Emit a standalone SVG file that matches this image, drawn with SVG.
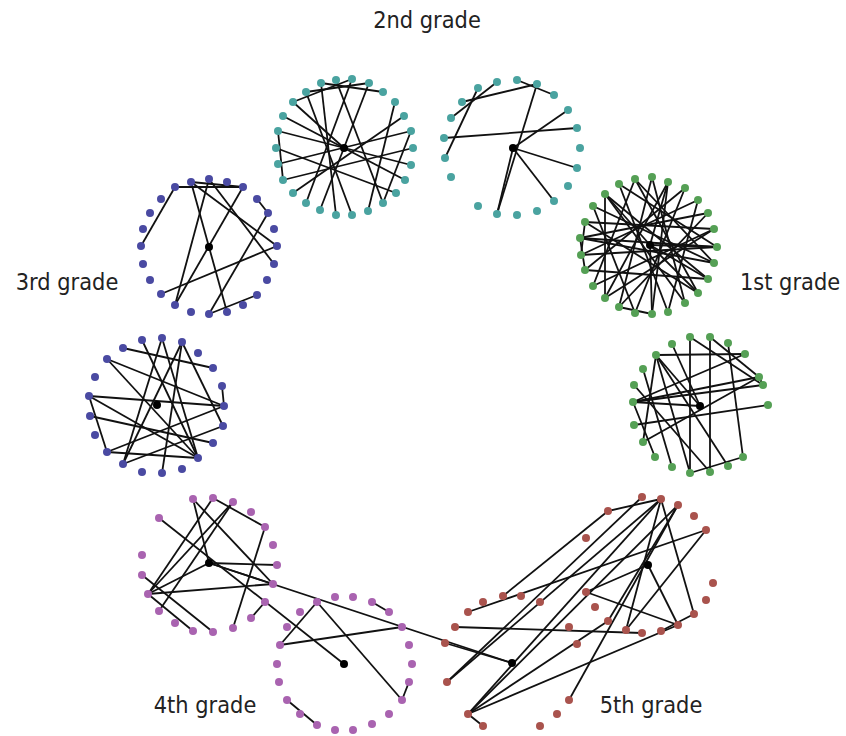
<svg xmlns="http://www.w3.org/2000/svg" width="846" height="736" viewBox="0 0 846 736">
<style>
  .e line { stroke: #111; stroke-width: 1.8; }
  .t { fill: #4aa3a0; }
  .g { fill: #55a055; }
  .b { fill: #4a4aa2; }
  .p { fill: #a963b0; }
  .r { fill: #a9534d; }
  .c { fill: #000; }
  text { font-family: "DejaVu Sans", "Liberation Sans", sans-serif; font-size: 21px; fill: #222; text-anchor: middle; }
</style>
<rect width="846" height="736" fill="#fff"/>

<!-- edges -->
<g id="edges" class="e">
  <!-- 2nd grade, left ring -->
  <line x1="306" y1="92" x2="369" y2="83"/>
  <line x1="321" y1="83" x2="383" y2="92"/>
  <line x1="293" y1="102" x2="352" y2="79"/>
  <line x1="321" y1="83" x2="336" y2="215"/>
  <line x1="336" y1="80" x2="383" y2="203"/>
  <line x1="369" y1="83" x2="320" y2="210"/>
  <line x1="395" y1="102" x2="368" y2="211"/>
  <line x1="278" y1="131" x2="411" y2="165"/>
  <line x1="283" y1="116" x2="405" y2="180"/>
  <line x1="278" y1="164" x2="411" y2="131"/>
  <line x1="293" y1="193" x2="404" y2="116"/>
  <line x1="278" y1="131" x2="283" y2="180"/>
  <line x1="276" y1="148" x2="396" y2="193"/>
  <line x1="352" y1="79" x2="306" y2="203"/>
  <line x1="283" y1="180" x2="413" y2="148"/>
  <line x1="293" y1="102" x2="344" y2="148"/>
  <line x1="411" y1="131" x2="383" y2="203"/>
  <line x1="306" y1="92" x2="352" y2="215"/>
  <!-- 2nd grade, right ring -->
  <line x1="462" y1="102" x2="537" y2="84"/>
  <line x1="451" y1="118" x2="497" y2="82"/>
  <line x1="478" y1="88" x2="445" y2="158"/>
  <line x1="517" y1="80" x2="554" y2="95"/>
  <line x1="537" y1="84" x2="497" y2="214"/>
  <line x1="444" y1="138" x2="577" y2="128"/>
  <line x1="513" y1="148" x2="568" y2="110"/>
  <line x1="513" y1="148" x2="577" y2="168"/>
  <line x1="513" y1="148" x2="554" y2="201"/>
  <line x1="513" y1="148" x2="497" y2="214"/>
  <!-- 1st grade, upper ring -->
  <line x1="619" y1="184" x2="668" y2="312"/>
  <line x1="635" y1="179" x2="698" y2="293"/>
  <line x1="635" y1="179" x2="593" y2="286"/>
  <line x1="652" y1="177" x2="619" y2="307"/>
  <line x1="652" y1="177" x2="685" y2="303"/>
  <line x1="668" y1="182" x2="605" y2="298"/>
  <line x1="668" y1="182" x2="652" y2="314"/>
  <line x1="685" y1="188" x2="585" y2="270"/>
  <line x1="685" y1="188" x2="635" y2="313"/>
  <line x1="698" y1="200" x2="581" y2="255"/>
  <line x1="698" y1="200" x2="668" y2="312"/>
  <line x1="708" y1="213" x2="580" y2="238"/>
  <line x1="708" y1="213" x2="619" y2="307"/>
  <line x1="714" y1="229" x2="585" y2="222"/>
  <line x1="714" y1="229" x2="593" y2="286"/>
  <line x1="717" y1="247" x2="581" y2="255"/>
  <line x1="717" y1="247" x2="580" y2="238"/>
  <line x1="714" y1="263" x2="593" y2="206"/>
  <line x1="714" y1="263" x2="580" y2="238"/>
  <line x1="708" y1="279" x2="605" y2="194"/>
  <line x1="708" y1="279" x2="585" y2="270"/>
  <line x1="698" y1="293" x2="585" y2="222"/>
  <line x1="685" y1="303" x2="605" y2="194"/>
  <line x1="635" y1="313" x2="593" y2="206"/>
  <line x1="605" y1="298" x2="714" y2="229"/>
  <line x1="605" y1="194" x2="605" y2="298"/>
  <line x1="580" y1="238" x2="585" y2="270"/>
  <line x1="585" y1="222" x2="581" y2="255"/>
  <line x1="619" y1="307" x2="652" y2="314"/>
  <line x1="650" y1="245" x2="668" y2="182"/>
  <line x1="650" y1="245" x2="698" y2="293"/>
  <line x1="650" y1="245" x2="652" y2="314"/>
  <line x1="650" y1="245" x2="605" y2="194"/>
  <line x1="650" y1="245" x2="717" y2="247"/>
  <line x1="650" y1="245" x2="708" y2="279"/>
  <line x1="635" y1="179" x2="714" y2="263"/>
  <line x1="619" y1="184" x2="717" y2="247"/>
  <!-- 1st grade, lower ring -->
  <line x1="690" y1="337" x2="690" y2="473"/>
  <line x1="710" y1="337" x2="710" y2="470"/>
  <line x1="656" y1="355" x2="745" y2="354"/>
  <line x1="656" y1="355" x2="690" y2="473"/>
  <line x1="656" y1="355" x2="643" y2="442"/>
  <line x1="656" y1="355" x2="700" y2="406"/>
  <line x1="710" y1="337" x2="759" y2="377"/>
  <line x1="728" y1="343" x2="743" y2="457"/>
  <line x1="633" y1="402" x2="745" y2="354"/>
  <line x1="633" y1="402" x2="763" y2="385"/>
  <line x1="633" y1="402" x2="700" y2="406"/>
  <line x1="634" y1="425" x2="768" y2="405"/>
  <line x1="643" y1="442" x2="759" y2="377"/>
  <line x1="743" y1="457" x2="690" y2="473"/>
  <line x1="643" y1="369" x2="672" y2="467"/>
  <line x1="759" y1="377" x2="763" y2="385"/>
  <line x1="656" y1="355" x2="728" y2="466"/>
  <line x1="633" y1="402" x2="655" y2="457"/>
  <line x1="634" y1="385" x2="710" y2="472"/>
  <line x1="633" y1="402" x2="759" y2="377"/>
  <line x1="672" y1="344" x2="700" y2="406"/>
  <line x1="690" y1="337" x2="763" y2="385"/>
  <!-- 3rd grade, upper ring -->
  <line x1="175" y1="187" x2="243" y2="187"/>
  <line x1="191" y1="182" x2="243" y2="187"/>
  <line x1="175" y1="187" x2="141" y2="246"/>
  <line x1="191" y1="182" x2="227" y2="312"/>
  <line x1="209" y1="179" x2="175" y2="305"/>
  <line x1="243" y1="187" x2="175" y2="305"/>
  <line x1="191" y1="182" x2="277" y2="246"/>
  <line x1="209" y1="179" x2="274" y2="264"/>
  <line x1="257" y1="199" x2="268" y2="213"/>
  <line x1="268" y1="213" x2="209" y2="314"/>
  <line x1="277" y1="246" x2="161" y2="294"/>
  <line x1="257" y1="295" x2="209" y2="314"/>
  <!-- 3rd grade, lower ring -->
  <line x1="123" y1="348" x2="213" y2="368"/>
  <line x1="107" y1="359" x2="224" y2="406"/>
  <line x1="107" y1="359" x2="198" y2="458"/>
  <line x1="142" y1="340" x2="198" y2="458"/>
  <line x1="162" y1="338" x2="123" y2="464"/>
  <line x1="162" y1="338" x2="198" y2="458"/>
  <line x1="182" y1="342" x2="123" y2="464"/>
  <line x1="182" y1="342" x2="162" y2="473"/>
  <line x1="182" y1="342" x2="223" y2="426"/>
  <line x1="89" y1="396" x2="224" y2="406"/>
  <line x1="89" y1="396" x2="107" y2="452"/>
  <line x1="89" y1="396" x2="198" y2="458"/>
  <line x1="107" y1="452" x2="198" y2="458"/>
  <line x1="107" y1="452" x2="224" y2="406"/>
  <line x1="123" y1="464" x2="223" y2="426"/>
  <line x1="222" y1="386" x2="224" y2="406"/>
  <line x1="90" y1="416" x2="213" y2="443"/>
  <!-- 4th grade, upper ring -->
  <line x1="159" y1="518" x2="344" y2="664"/>
  <line x1="209" y1="563" x2="512" y2="663"/>
  <line x1="193" y1="499" x2="273" y2="584"/>
  <line x1="213" y1="498" x2="265" y2="527"/>
  <line x1="265" y1="527" x2="233" y2="628"/>
  <line x1="213" y1="498" x2="148" y2="594"/>
  <line x1="233" y1="502" x2="148" y2="594"/>
  <line x1="233" y1="502" x2="159" y2="611"/>
  <line x1="193" y1="499" x2="209" y2="563"/>
  <line x1="209" y1="563" x2="277" y2="565"/>
  <line x1="148" y1="594" x2="273" y2="584"/>
  <line x1="209" y1="563" x2="273" y2="584"/>
  <line x1="142" y1="575" x2="213" y2="632"/>
  <line x1="148" y1="594" x2="193" y2="631"/>
  <line x1="209" y1="563" x2="148" y2="594"/>
  <line x1="265" y1="602" x2="251" y2="618"/>
  <!-- 4th grade, lower ring -->
  <line x1="280" y1="645" x2="317" y2="602"/>
  <line x1="280" y1="645" x2="402" y2="627"/>
  <line x1="317" y1="602" x2="402" y2="700"/>
  <line x1="402" y1="700" x2="409" y2="682"/>
  <line x1="372" y1="602" x2="389" y2="612"/>
  <line x1="287" y1="700" x2="317" y2="725"/>
  <!-- 5th grade -->
  <line x1="503" y1="596" x2="608" y2="511"/>
  <line x1="608" y1="511" x2="661" y2="499"/>
  <line x1="468" y1="612" x2="706" y2="530"/>
  <line x1="447" y1="682" x2="642" y2="497"/>
  <line x1="447" y1="682" x2="661" y2="499"/>
  <line x1="468" y1="714" x2="661" y2="499"/>
  <line x1="468" y1="714" x2="678" y2="505"/>
  <line x1="468" y1="714" x2="608" y2="621"/>
  <line x1="468" y1="714" x2="678" y2="625"/>
  <line x1="445" y1="643" x2="512" y2="663"/>
  <line x1="455" y1="627" x2="642" y2="633"/>
  <line x1="586" y1="592" x2="678" y2="625"/>
  <line x1="586" y1="592" x2="648" y2="565"/>
  <line x1="648" y1="565" x2="678" y2="625"/>
  <line x1="661" y1="499" x2="694" y2="614"/>
  <line x1="661" y1="499" x2="626" y2="630"/>
  <line x1="678" y1="505" x2="608" y2="621"/>
  <line x1="706" y1="530" x2="626" y2="630"/>
  <line x1="694" y1="614" x2="661" y2="631"/>
  <line x1="569" y1="700" x2="678" y2="505"/>
  <line x1="468" y1="714" x2="483" y2="726"/>
</g>

<!-- nodes: 2nd grade -->
<g id="grade2-left" class="t">
  <circle cx="321" cy="83" r="4"/><circle cx="336" cy="80" r="4"/><circle cx="352" cy="79" r="4"/>
  <circle cx="369" cy="83" r="4"/><circle cx="383" cy="92" r="4"/><circle cx="395" cy="102" r="4"/>
  <circle cx="404" cy="116" r="4"/><circle cx="411" cy="131" r="4"/><circle cx="413" cy="148" r="4"/>
  <circle cx="411" cy="165" r="4"/><circle cx="405" cy="180" r="4"/><circle cx="396" cy="193" r="4"/>
  <circle cx="383" cy="203" r="4"/><circle cx="368" cy="211" r="4"/><circle cx="352" cy="215" r="4"/>
  <circle cx="336" cy="215" r="4"/><circle cx="320" cy="210" r="4"/><circle cx="306" cy="203" r="4"/>
  <circle cx="293" cy="193" r="4"/><circle cx="283" cy="180" r="4"/><circle cx="278" cy="164" r="4"/>
  <circle cx="276" cy="148" r="4"/><circle cx="278" cy="131" r="4"/><circle cx="283" cy="116" r="4"/>
  <circle cx="293" cy="102" r="4"/><circle cx="306" cy="92" r="4"/>
  <circle class="c" cx="344" cy="148" r="4"/>
</g>
<g id="grade2-right" class="t">
  <circle cx="478" cy="88" r="4"/><circle cx="497" cy="82" r="4"/><circle cx="517" cy="80" r="4"/>
  <circle cx="537" cy="84" r="4"/><circle cx="554" cy="95" r="4"/><circle cx="568" cy="110" r="4"/>
  <circle cx="577" cy="128" r="4"/><circle cx="580" cy="148" r="4"/><circle cx="577" cy="168" r="4"/>
  <circle cx="568" cy="186" r="4"/><circle cx="554" cy="201" r="4"/><circle cx="537" cy="211" r="4"/>
  <circle cx="517" cy="215" r="4"/><circle cx="497" cy="214" r="4"/><circle cx="478" cy="206" r="4"/>
  <circle cx="451" cy="177" r="4"/><circle cx="445" cy="158" r="4"/><circle cx="444" cy="138" r="4"/>
  <circle cx="451" cy="118" r="4"/><circle cx="462" cy="102" r="4"/>
  <circle class="c" cx="513" cy="148" r="4"/>
</g>

<!-- nodes: 1st grade -->
<g id="grade1-upper" class="g">
  <circle cx="619" cy="184" r="4"/><circle cx="635" cy="179" r="4"/><circle cx="652" cy="177" r="4"/>
  <circle cx="668" cy="182" r="4"/><circle cx="685" cy="188" r="4"/><circle cx="698" cy="200" r="4"/>
  <circle cx="708" cy="213" r="4"/><circle cx="714" cy="229" r="4"/><circle cx="717" cy="247" r="4"/>
  <circle cx="714" cy="263" r="4"/><circle cx="708" cy="279" r="4"/><circle cx="698" cy="293" r="4"/>
  <circle cx="685" cy="303" r="4"/><circle cx="668" cy="312" r="4"/><circle cx="652" cy="314" r="4"/>
  <circle cx="635" cy="313" r="4"/><circle cx="619" cy="307" r="4"/><circle cx="605" cy="298" r="4"/>
  <circle cx="593" cy="286" r="4"/><circle cx="585" cy="270" r="4"/><circle cx="581" cy="255" r="4"/>
  <circle cx="580" cy="238" r="4"/><circle cx="585" cy="222" r="4"/><circle cx="593" cy="206" r="4"/>
  <circle cx="605" cy="194" r="4"/>
  <circle class="c" cx="650" cy="245" r="4"/>
</g>
<g id="grade1-lower" class="g">
  <circle cx="672" cy="344" r="4"/><circle cx="690" cy="337" r="4"/><circle cx="710" cy="337" r="4"/>
  <circle cx="728" cy="343" r="4"/><circle cx="745" cy="354" r="4"/><circle cx="759" cy="377" r="4"/>
  <circle cx="763" cy="385" r="4"/><circle cx="768" cy="405" r="4"/><circle cx="743" cy="457" r="4"/>
  <circle cx="728" cy="466" r="4"/><circle cx="710" cy="472" r="4"/><circle cx="690" cy="473" r="4"/>
  <circle cx="672" cy="467" r="4"/><circle cx="655" cy="457" r="4"/><circle cx="643" cy="442" r="4"/>
  <circle cx="634" cy="425" r="4"/><circle cx="633" cy="402" r="4"/><circle cx="634" cy="385" r="4"/>
  <circle cx="643" cy="369" r="4"/><circle cx="656" cy="355" r="4"/>
  <circle class="c" cx="700" cy="406" r="4"/>
</g>

<!-- nodes: 3rd grade -->
<g id="grade3-upper" class="b">
  <circle cx="175" cy="187" r="4"/><circle cx="191" cy="182" r="4"/><circle cx="209" cy="179" r="4"/>
  <circle cx="227" cy="182" r="4"/><circle cx="243" cy="187" r="4"/><circle cx="257" cy="199" r="4"/>
  <circle cx="268" cy="213" r="4"/><circle cx="274" cy="229" r="4"/><circle cx="277" cy="246" r="4"/>
  <circle cx="274" cy="264" r="4"/><circle cx="267" cy="280" r="4"/><circle cx="257" cy="295" r="4"/>
  <circle cx="243" cy="305" r="4"/><circle cx="227" cy="312" r="4"/><circle cx="209" cy="314" r="4"/>
  <circle cx="191" cy="312" r="4"/><circle cx="175" cy="305" r="4"/><circle cx="161" cy="294" r="4"/>
  <circle cx="150" cy="280" r="4"/><circle cx="143" cy="264" r="4"/><circle cx="141" cy="246" r="4"/>
  <circle cx="143" cy="229" r="4"/><circle cx="150" cy="213" r="4"/><circle cx="161" cy="199" r="4"/>
  <circle class="c" cx="209" cy="247" r="4"/>
</g>
<g id="grade3-lower" class="b">
  <circle cx="142" cy="340" r="4"/><circle cx="162" cy="338" r="4"/><circle cx="182" cy="342" r="4"/>
  <circle cx="198" cy="353" r="4"/><circle cx="213" cy="368" r="4"/><circle cx="222" cy="386" r="4"/>
  <circle cx="224" cy="406" r="4"/><circle cx="223" cy="426" r="4"/><circle cx="213" cy="443" r="4"/>
  <circle cx="198" cy="458" r="4"/><circle cx="182" cy="469" r="4"/><circle cx="162" cy="473" r="4"/>
  <circle cx="142" cy="472" r="4"/><circle cx="123" cy="464" r="4"/><circle cx="107" cy="452" r="4"/>
  <circle cx="95" cy="435" r="4"/><circle cx="90" cy="416" r="4"/><circle cx="89" cy="396" r="4"/>
  <circle cx="95" cy="377" r="4"/><circle cx="107" cy="359" r="4"/><circle cx="123" cy="348" r="4"/>
  <circle class="c" cx="157" cy="405" r="4"/>
</g>

<!-- nodes: 4th grade -->
<g id="grade4-upper" class="p">
  <circle cx="193" cy="499" r="4"/><circle cx="213" cy="498" r="4"/><circle cx="233" cy="502" r="4"/>
  <circle cx="251" cy="512" r="4"/><circle cx="265" cy="527" r="4"/><circle cx="273" cy="545" r="4"/>
  <circle cx="277" cy="565" r="4"/><circle cx="273" cy="584" r="4"/><circle cx="265" cy="602" r="4"/>
  <circle cx="251" cy="618" r="4"/><circle cx="233" cy="628" r="4"/><circle cx="213" cy="632" r="4"/>
  <circle cx="193" cy="631" r="4"/><circle cx="175" cy="623" r="4"/><circle cx="159" cy="611" r="4"/>
  <circle cx="148" cy="594" r="4"/><circle cx="142" cy="575" r="4"/><circle cx="142" cy="555" r="4"/>
  <circle cx="159" cy="518" r="4"/>
  <circle class="c" cx="209" cy="563" r="4"/>
</g>
<g id="grade4-lower" class="p">
  <circle cx="317" cy="602" r="4"/><circle cx="335" cy="597" r="4"/><circle cx="353" cy="597" r="4"/>
  <circle cx="372" cy="602" r="4"/><circle cx="389" cy="612" r="4"/><circle cx="402" cy="627" r="4"/>
  <circle cx="409" cy="645" r="4"/><circle cx="412" cy="664" r="4"/><circle cx="409" cy="682" r="4"/>
  <circle cx="402" cy="700" r="4"/><circle cx="389" cy="714" r="4"/><circle cx="372" cy="724" r="4"/>
  <circle cx="353" cy="730" r="4"/><circle cx="335" cy="730" r="4"/><circle cx="317" cy="725" r="4"/>
  <circle cx="300" cy="714" r="4"/><circle cx="287" cy="700" r="4"/><circle cx="279" cy="682" r="4"/>
  <circle cx="277" cy="664" r="4"/><circle cx="280" cy="645" r="4"/><circle cx="287" cy="627" r="4"/>
  <circle cx="300" cy="612" r="4"/>
  <circle class="c" cx="344" cy="664" r="4"/>
</g>

<!-- nodes: 5th grade -->
<g id="grade5-upper" class="r">
  <circle cx="608" cy="511" r="4"/><circle cx="642" cy="497" r="4"/><circle cx="661" cy="499" r="4"/>
  <circle cx="678" cy="505" r="4"/><circle cx="694" cy="516" r="4"/><circle cx="706" cy="530" r="4"/>
  <circle cx="713" cy="583" r="4"/><circle cx="706" cy="600" r="4"/><circle cx="694" cy="614" r="4"/>
  <circle cx="678" cy="625" r="4"/><circle cx="661" cy="631" r="4"/><circle cx="642" cy="633" r="4"/>
  <circle cx="626" cy="630" r="4"/><circle cx="608" cy="621" r="4"/><circle cx="595" cy="607" r="4"/>
  <circle cx="586" cy="592" r="4"/><circle cx="586" cy="538" r="4"/>
  <circle class="c" cx="648" cy="565" r="4"/>
</g>
<g id="grade5-lower" class="r">
  <circle cx="540" cy="602" r="4"/><circle cx="521" cy="596" r="4"/><circle cx="503" cy="596" r="4"/>
  <circle cx="483" cy="602" r="4"/><circle cx="468" cy="612" r="4"/><circle cx="455" cy="627" r="4"/>
  <circle cx="445" cy="643" r="4"/><circle cx="447" cy="682" r="4"/><circle cx="468" cy="714" r="4"/>
  <circle cx="483" cy="726" r="4"/><circle cx="540" cy="726" r="4"/><circle cx="557" cy="714" r="4"/>
  <circle cx="569" cy="700" r="4"/><circle cx="577" cy="644" r="4"/><circle cx="569" cy="627" r="4"/>
  <circle class="c" cx="512" cy="663" r="4"/>
</g>

<!-- grade labels -->
<g id="labels">
  <text transform="translate(427,28) scale(1,1.12)">2nd grade</text>
  <text transform="translate(790,290) scale(1,1.12)">1st grade</text>
  <text transform="translate(67,290) scale(1,1.12)">3rd grade</text>
  <text transform="translate(205,713) scale(1,1.12)">4th grade</text>
  <text transform="translate(651,713) scale(1,1.12)">5th grade</text>
</g>
</svg>
